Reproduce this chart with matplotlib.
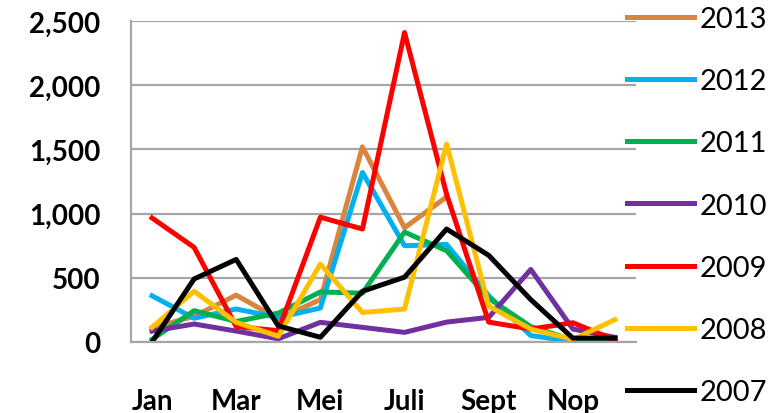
import numpy as np
from matplotlib import pyplot as plt
from matplotlib.ticker import FuncFormatter

# monthly values
months = ["Jan", "Feb", "Mar", "Apr", "Mei", "Jun", "Juli", "Agust", "Sept", "Okt", "Nop", "Des"]
years = ["2013", "2012", "2011", "2010", "2009", "2008", "2007"]

v2013 = [110, 200, 365, 180, 330, 1520, 890, 1130]
v2012 = [360, 185, 257, 190, 265, 1320, 750, 760, 360, 50, 5, 5]
v2011 = [20, 244, 160, 225, 390, 380, 856, 711, 340, 120, 15, 5]
v2010 = [85, 140, 85, 25, 153, 114, 75, 155, 192, 565, 101, 36]
v2009 = [966, 737, 120, 88, 972, 880, 2410, 1150, 155, 101, 150, 15]
v2008 = [114, 395, 153, 45, 607, 230, 257, 1542, 280, 100, 20, 174]
v2007 = [0, 491, 643, 125, 37, 395, 505, 880, 675, 330, 30, 30]

series = [v2013, v2012, v2011, v2010, v2009, v2008, v2007]
colors = ["#D9843F", "#00B0F0", "#00B050", "#7030A0", "#FF0000", "#FFC000", "#000000"]

plt.rcParams['font.family'] = ['Lato', 'DejaVu Sans']

fig = plt.figure(figsize=(7.77, 4.14), dpi=100)
ax = fig.add_axes([131/777, 1-343/414, (636-131)/777, (343-22)/414])

x = np.arange(len(months))
for vals, c, yr in zip(series, colors, years):
    ax.plot(x[:len(vals)], vals, color=c, linewidth=3.6, label=yr)

ax.set_xlim(-0.5, 11.5)
ax.set_ylim(0, 2500)
ax.set_yticks(np.arange(0, 2501, 500))
ax.yaxis.set_major_formatter(FuncFormatter(lambda v, p: f"{int(v):,}"))
ax.set_xticks(x[::2])
ax.set_xticklabels(months[::2])

ax.grid(axis='y', color='#A6A6A6', linewidth=1.6)
ax.set_axisbelow(True)
for s in ['top', 'right']:
    ax.spines[s].set_visible(False)
for s in ['left', 'bottom']:
    ax.spines[s].set_color('#A6A6A6')
    ax.spines[s].set_linewidth(1.6)
ax.tick_params(length=0, labelsize=20)
ax.tick_params(axis='y', pad=22)
ax.tick_params(axis='x', pad=33)
for lbl in ax.get_xticklabels() + ax.get_yticklabels():
    lbl.set_fontweight('bold')

leg = ax.legend(loc='upper left', bbox_to_anchor=(624/777, 0.99), bbox_transform=fig.transFigure,
                frameon=False, fontsize=21, handlelength=2.3, handletextpad=0.2,
                labelspacing=1.24, borderpad=0.1, borderaxespad=0)
for line in leg.get_lines():
    line.set_linewidth(3.6)

fig.savefig("out.png", dpi=100)
